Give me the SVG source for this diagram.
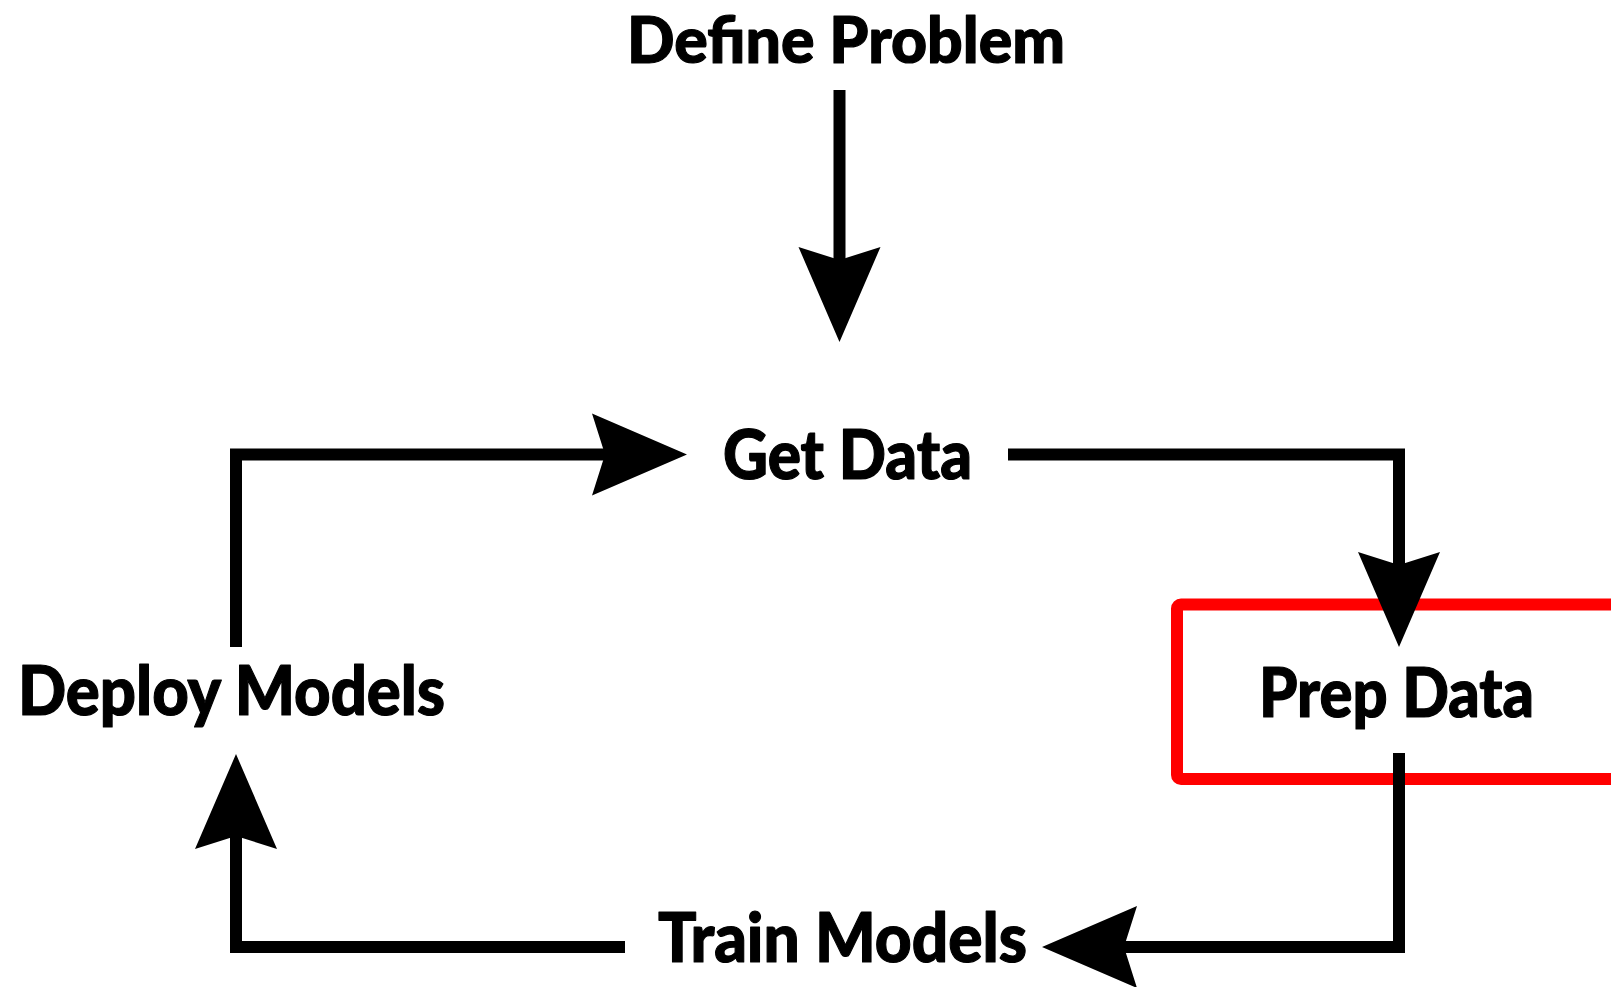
<svg xmlns="http://www.w3.org/2000/svg" xmlns:xlink="http://www.w3.org/1999/xlink" width="1611" height="987" viewBox="0 0 1611 987">
  <style>
    .lbl { font-family: "Lato", "Open Sans", "Liberation Sans", sans-serif; font-weight: 900; font-size: 68px; fill: #000; stroke: #000; stroke-width: 1.2; stroke-linejoin: round; }
    .ln { fill: none; stroke: #000; stroke-width: 12; stroke-linejoin: miter; stroke-linecap: butt; }
    .hl { fill: none; stroke: #ff0000; stroke-width: 12; }
  </style>
  <defs>
    <path id="ah" d="M0,0 L-95,-41 L-82,0 L-95,41 Z" fill="#000"/>
  </defs>
  <rect width="1611" height="987" fill="#fff"/>

  <g id="highlight">
    <rect class="hl" x="1177" y="604.5" width="480" height="174.5" rx="4"/>
  </g>

  <g id="node-define-problem">
    <text class="lbl" x="627" y="63" font-size="64" style="font-size:64px" textLength="438" lengthAdjust="spacingAndGlyphs">Define Problem</text>
  </g>
  <g id="node-get-data">
    <text class="lbl" x="723" y="479" textLength="249" lengthAdjust="spacingAndGlyphs">Get Data</text>
  </g>
  <g id="node-prep-data">
    <text class="lbl" x="1259" y="717" textLength="275" lengthAdjust="spacingAndGlyphs">Prep Data</text>
  </g>
  <g id="node-deploy-models">
    <text class="lbl" x="18" y="715" textLength="427" lengthAdjust="spacingAndGlyphs">Deploy Models</text>
  </g>
  <g id="node-train-models">
    <text class="lbl" x="658" y="962" textLength="369" lengthAdjust="spacingAndGlyphs">Train Models</text>
  </g>

  <g id="connectors">
    <path class="ln" d="M839.5,90 V270"/>
    <use xlink:href="#ah" href="#ah" transform="translate(839.5,342) rotate(90)"/>

    <path class="ln" d="M236,647 V454.5 H615"/>
    <use xlink:href="#ah" href="#ah" transform="translate(687,454.5)"/>

    <path class="ln" d="M1008,454.5 H1399 V575"/>
    <use xlink:href="#ah" href="#ah" transform="translate(1399,647) rotate(90)"/>

    <path class="ln" d="M1399,753 V947 H1114"/>
    <use xlink:href="#ah" href="#ah" transform="translate(1042,947) rotate(180)"/>

    <path class="ln" d="M625,947 H236 V826"/>
    <use xlink:href="#ah" href="#ah" transform="translate(236,754) rotate(-90)"/>
  </g>
</svg>
